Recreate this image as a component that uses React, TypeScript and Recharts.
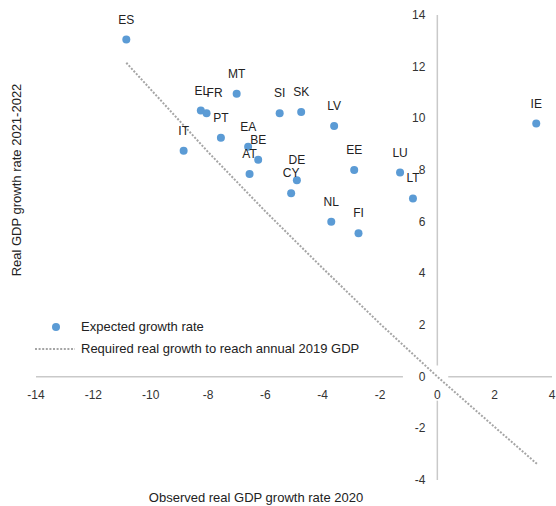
import React from 'react';
import { ScatterChart, Scatter, XAxis, YAxis, ReferenceLine } from 'recharts';

const countries = ['ES', 'EL', 'FR', 'MT', 'PT', 'IT', 'EA', 'BE', 'AT', 'SI', 'SK', 'LV', 'EE', 'LU', 'LT', 'DE', 'CY', 'NL', 'FI', 'IE'];
const observed2020 = [-10.85, -8.25, -8.05, -7.0, -7.55, -8.85, -6.6, -6.25, -6.55, -5.5, -4.75, -3.6, -2.9, -1.3, -0.85, -4.9, -5.1, -3.7, -2.75, 3.45];
const expected2122 = [13.05, 10.3, 10.2, 10.95, 9.25, 8.75, 8.9, 8.4, 7.85, 10.2, 10.25, 9.7, 8.0, 7.9, 6.9, 7.6, 7.1, 6.0, 5.55, 9.8];

const requiredX = [-10.85, -8, -6, -4, -2, 0, 2, 3.5];
const requiredY = [12.15, 8.7, 6.4, 4.2, 2.05, 0, -1.95, -3.4];

const xTicks = [-14, -12, -10, -8, -6, -4, -2, 0, 2, 4];
const yTicks = [-4, -2, 0, 2, 4, 6, 8, 10, 12, 14];

const expectedData = countries.map((name, i) => ({ name, x: observed2020[i], y: expected2122[i] }));
const requiredData = requiredX.map((x, i) => ({ x, y: requiredY[i] }));

// layout / style
const W = 556;
const H = 506;
const M = { top: 15, right: 4, left: 35, bottom: 25 };
const AXIS_SIZE = 1;
const XMIN = -14, XMAX = 4, YMIN = -4, YMAX = 14;
const PLOT_LEFT = M.left + AXIS_SIZE;
const PLOT_TOP = M.top;
const PW = W - PLOT_LEFT - M.right;
const PH = H - M.top - M.bottom - AXIS_SIZE;
const ZERO_X = PLOT_LEFT + (PW * (0 - XMIN)) / (XMAX - XMIN);
const ZERO_Y = PLOT_TOP + (PH * (YMAX - 0)) / (YMAX - YMIN);
// gaps in the crossing axes left by the "0" tick label boxes
const X_AXIS_GAP = [-1.2, 0.38];
const Y_AXIS_GAP = [-0.93, 0.43];
const FONT = '"Liberation Sans", Arial, sans-serif';
const AXIS_COLOR = '#c9c9c9';
const DOT_COLOR = '#5b9bd5';
const LINE_COLOR = '#a5a5a5';
const TEXT_COLOR = '#333';
const labelDx: Record<string, number> = { FR: 8, EL: 1 };

const renderXTick = (props: any) => {
  const { x, payload } = props;
  return (
    <text x={x} y={ZERO_Y + 18} textAnchor="middle" dominantBaseline="central" fontFamily={FONT} fontSize={12} fill={TEXT_COLOR}>
      {payload.value}
    </text>
  );
};

const renderYTick = (props: any) => {
  const { y, payload } = props;
  return (
    <text x={ZERO_X - 12} y={y} textAnchor="end" dominantBaseline="central" fontFamily={FONT} fontSize={12} fill={TEXT_COLOR}>
      {payload.value}
    </text>
  );
};

const PointShape = (props: any) => {
  const { cx, cy, payload } = props;
  const dx = labelDx[payload.name] || 0;
  return (
    <g>
      <circle cx={cx} cy={cy} r={4} fill={DOT_COLOR} />
      <text x={cx + dx} y={cy - 20} textAnchor="middle" dominantBaseline="central" fontFamily={FONT} fontSize={12} fill="#222">
        {payload.name}
      </text>
    </g>
  );
};

export default function App() {
  return (
    <div style={{ position: 'absolute', left: 0, top: 0, width: W, height: H, background: '#fff', fontFamily: FONT }}>
      <ScatterChart width={W} height={H} margin={M}>
        <XAxis
          type="number"
          dataKey="x"
          domain={[XMIN, XMAX]}
          ticks={xTicks}
          height={AXIS_SIZE}
          axisLine={false}
          tickLine={false}
          tick={renderXTick}
          interval={0}
          allowDataOverflow
        />
        <YAxis
          type="number"
          dataKey="y"
          domain={[YMIN, YMAX]}
          ticks={yTicks}
          width={AXIS_SIZE}
          axisLine={false}
          tickLine={false}
          tick={renderYTick}
          interval={0}
          allowDataOverflow
        />
        <ReferenceLine segment={[{ x: XMIN, y: 0 }, { x: X_AXIS_GAP[0], y: 0 }]} stroke={AXIS_COLOR} strokeWidth={1.5} />
        <ReferenceLine segment={[{ x: X_AXIS_GAP[1], y: 0 }, { x: XMAX, y: 0 }]} stroke={AXIS_COLOR} strokeWidth={1.5} />
        <ReferenceLine segment={[{ x: 0, y: YMAX }, { x: 0, y: Y_AXIS_GAP[1] }]} stroke={AXIS_COLOR} strokeWidth={1.5} />
        <ReferenceLine segment={[{ x: 0, y: Y_AXIS_GAP[0] }, { x: 0, y: YMIN }]} stroke={AXIS_COLOR} strokeWidth={1.5} />
        <Scatter
          name="Required real growth to reach annual 2019 GDP"
          data={requiredData}
          line={{ stroke: LINE_COLOR, strokeWidth: 2, strokeDasharray: '2 1.6' }}
          lineType="joint"
          shape={() => <g />}
          isAnimationActive={false}
        />
        <Scatter name="Expected growth rate" data={expectedData} shape={<PointShape />} isAnimationActive={false} />
      </ScatterChart>

      <div style={{ position: 'absolute', left: 30, top: 316, fontSize: 13, color: '#222', lineHeight: '22px' }}>
        <div style={{ display: 'flex', alignItems: 'center' }}>
          <svg width={51} height={22}>
            <circle cx={26} cy={11} r={4} fill={DOT_COLOR} />
          </svg>
          <span>Expected growth rate</span>
        </div>
        <div style={{ display: 'flex', alignItems: 'center' }}>
          <svg width={51} height={22}>
            <line x1={5} y1={11} x2={45} y2={11} stroke={LINE_COLOR} strokeWidth={2} strokeDasharray="2 1.6" />
          </svg>
          <span>Required real growth to reach annual 2019 GDP</span>
        </div>
      </div>

      <div
        style={{
          position: 'absolute',
          left: 16,
          top: 180,
          transform: 'translate(-50%, -50%) rotate(-90deg)',
          whiteSpace: 'nowrap',
          fontSize: 13,
          color: '#222',
        }}
      >
        Real GDP growth rate 2021-2022
      </div>
      <div
        style={{
          position: 'absolute',
          left: 256,
          top: 497,
          transform: 'translate(-50%, -50%)',
          whiteSpace: 'nowrap',
          fontSize: 13,
          color: '#222',
        }}
      >
        Observed real GDP growth rate 2020
      </div>
    </div>
  );
}
